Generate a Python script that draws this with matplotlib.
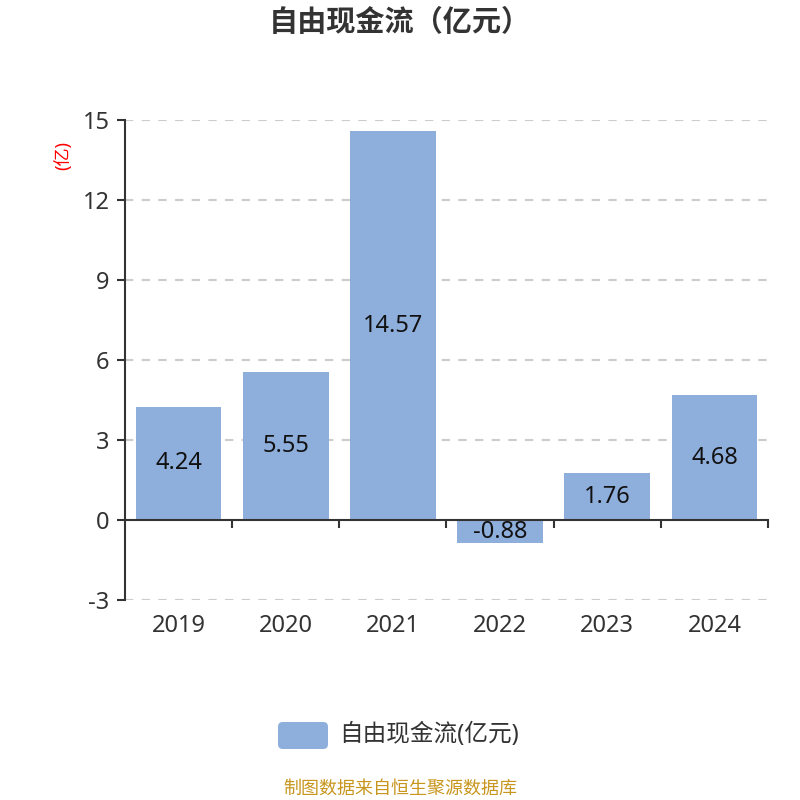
import matplotlib
matplotlib.use("Agg")
import matplotlib.pyplot as plt
from matplotlib.patches import FancyBboxPatch
import matplotlib.transforms as mtransforms

plt.rcParams['font.family'] = ['Noto Sans', 'Noto Sans CJK SC', 'DejaVu Sans']

# data
years = ["2019", "2020", "2021", "2022", "2023", "2024"]
fcf = [4.24, 5.55, 14.57, -0.88, 1.76, 4.68]
y_ticks = [-3, 0, 3, 6, 9, 12, 15]

BAR = "#8eaedb"
DARK = "#333333"

fig = plt.figure(figsize=(8, 8), dpi=100)
ax = fig.add_axes([0.15625, 0.25, 0.96 - 0.15625, 0.60])

x = list(range(len(years)))
ax.bar(x, fcf, width=0.8, color=BAR, zorder=3)
for xi, v in zip(x, fcf):
    ax.text(xi, v / 2, f"{v:.2f}", ha="center", va="center",
            fontsize=17, color="#111111", zorder=4)

ax.set_xlim(-0.5, len(years) - 0.5)
ax.set_ylim(-3, 15)
ax.set_yticks(y_ticks)
ax.set_yticklabels([str(t) for t in y_ticks], fontsize=17, color=DARK)
for t in y_ticks:
    if t != 0:
        ax.axhline(t, color="#cccccc", lw=1.5, ls=(0, (4, 4)), zorder=1)

ax.spines["top"].set_visible(False)
ax.spines["right"].set_visible(False)
ax.spines["left"].set_color(DARK)
ax.spines["left"].set_linewidth(1.5)
ax.spines["bottom"].set_position(("data", 0))
ax.spines["bottom"].set_color(DARK)
ax.spines["bottom"].set_linewidth(1.5)
ax.spines["bottom"].set_zorder(5)

ax.set_xticks([i + 0.5 for i in x])
ax.set_xticklabels([])
ax.tick_params(axis="x", direction="out", length=6, width=1.5, color=DARK)
ax.tick_params(axis="y", direction="out", length=6, width=1.5, color=DARK, pad=5)

trans = mtransforms.blended_transform_factory(ax.transData, ax.transAxes)
for xi, lab in zip(x, years):
    ax.text(xi, -0.055, lab, transform=trans, ha="center", va="center",
            fontsize=17, color=DARK)

ax.text(-0.096, 0.927, "(亿)", transform=ax.transAxes, rotation=90,
        ha="center", va="center", fontsize=13, color="red")

fig.text(0.5, 0.97, "自由现金流（亿元）", ha="center", va="center",
         fontsize=21, fontweight="bold", color=DARK)

# legend
patch = FancyBboxPatch((278 / 800, 1 - 749 / 800), 50 / 800, 27 / 800,
                       boxstyle="round,pad=0,rounding_size=0.006",
                       transform=fig.transFigure, facecolor=BAR,
                       edgecolor="none")
fig.patches.append(patch)
fig.text(339 / 800, 1 - 735 / 800, "自由现金流(亿元)", ha="left", va="center",
         fontsize=17, color=DARK)

fig.text(0.5, 1 - 789 / 800, "制图数据来自恒生聚源数据库", ha="center",
         va="center", fontsize=13, color="#c8961e")

fig.savefig("out.png", dpi=100)
